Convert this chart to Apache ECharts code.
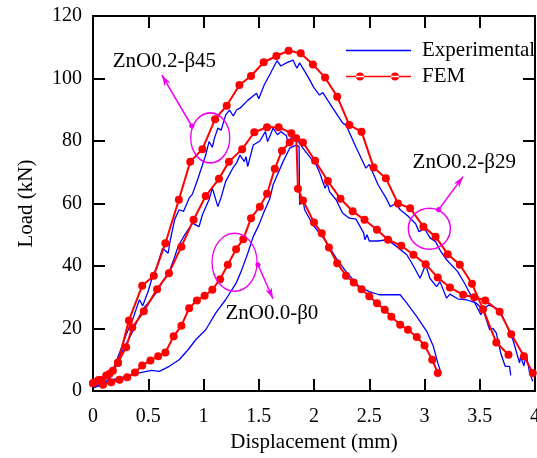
<!DOCTYPE html>
<html>
<head>
<meta charset="utf-8">
<script src="https://cdn.jsdelivr.net/npm/echarts@6/dist/echarts.min.js"></script>
<style>
html, body { margin: 0; padding: 0; background: #fff; }
#chart { width: 537px; height: 458px; font-family: 'Liberation Serif', serif; }
</style>
</head>
<body>
<div id="chart"></div>
<script>
// Load–displacement curves: [displacement (mm), load (kN)]

// ZnO0.2-β45
const expB45 = [[0,1],[0.08,2],[0.15,4],[0.2,7],[0.226,11],[0.26,14],[0.3,18],[0.36,23],[0.42,29.2],[0.45,27.3],[0.5,32],[0.53,35.6],[0.58,40],[0.63,45.7],[0.68,44.1],[0.7,48.4],[0.74,55],[0.78,58],[0.82,57.5],[0.87,61.7],[0.9,63],[0.95,68],[1.02,75.5],[1.05,79.8],[1.08,78],[1.1,81],[1.13,84.1],[1.16,83.5],[1.2,88.3],[1.235,89.9],[1.27,88],[1.3,90],[1.33,90.5],[1.4,93],[1.48,95.3],[1.5,93.5],[1.55,98],[1.6,101.3],[1.665,105.7],[1.7,104],[1.75,105],[1.81,105.9],[1.845,103.3],[1.87,105],[1.945,100.6],[2,97],[2.05,94.7],[2.08,95.5],[2.17,90.5],[2.26,85.7],[2.29,85.1],[2.38,78],[2.47,71.3],[2.5,72.5],[2.58,66],[2.65,61.9],[2.69,59],[2.74,60],[2.78,58],[2.85,56],[2.92,53.5],[2.95,51],[3,52],[3.05,49],[3.1,47.8],[3.15,44.5],[3.2,42],[3.3,38.2],[3.37,34],[3.44,29.2],[3.51,24.4],[3.53,26],[3.59,19.6],[3.62,20],[3.65,18.5],[3.69,12.1],[3.73,7.9],[3.77,7.9],[3.78,5]];
const femB45 = [[0,2.5],[0.05,3.5],[0.12,5],[0.18,6.5],[0.226,9.1],[0.325,22.6],[0.445,33.7],[0.55,36.9],[0.655,47.3],[0.777,61.2],[0.88,73.4],[0.99,77.4],[1.105,87],[1.21,91.3],[1.325,97.9],[1.43,100.8],[1.545,105.2],[1.66,107.2],[1.77,108.9],[1.88,108.1],[1.99,104.5],[2.1,100.3],[2.21,94.2],[2.32,85.1],[2.43,83],[2.54,71.5],[2.65,68.1],[2.76,60],[2.87,58.5],[2.99,52.6],[3.1,49.4],[3.21,43.8],[3.32,40.4],[3.43,34.3],[3.53,26.2],[3.65,15.5],[3.76,11.6]];

// ZnO0.2-β29
const expB29 = [[0,1.5],[0.06,2],[0.12,4],[0.18,7],[0.24,11.1],[0.3,15],[0.36,19.1],[0.42,24],[0.47,27],[0.52,29],[0.57,31.3],[0.63,35],[0.69,38.2],[0.73,42],[0.77,46.2],[0.83,50],[0.9,53.7],[0.96,52.6],[0.99,56.4],[1.05,61.2],[1.08,64.9],[1.13,59],[1.16,62],[1.2,67],[1.265,71.3],[1.3,73],[1.33,75.5],[1.37,73.4],[1.385,75],[1.4,71.8],[1.45,78.7],[1.51,80],[1.56,83],[1.58,79.8],[1.63,84.1],[1.67,82],[1.7,83],[1.75,81.7],[1.765,79.5],[1.795,81.1],[1.84,80.7],[1.9,77.7],[2.02,72.3],[2.05,70],[2.1,64.9],[2.12,66.5],[2.14,63.8],[2.2,61.2],[2.26,56.9],[2.32,55.3],[2.38,55],[2.45,50.5],[2.46,48.4],[2.48,50],[2.5,48],[2.58,48],[2.66,48.4],[2.72,47],[2.84,43.6],[2.9,40],[2.96,36.1],[3.01,40.4],[3.05,36],[3.11,33.4],[3.14,35],[3.2,29.7],[3.23,31],[3.3,29.5],[3.38,29.2],[3.47,28.1],[3.53,26],[3.58,27.5],[3.62,27],[3.68,26],[3.72,22.8],[3.8,16.4],[3.86,9],[3.87,11],[3.9,8],[3.92,12],[3.95,6],[3.98,3.1]];
const femB29 = [[0,2.5],[0.08,3.5],[0.15,5.5],[0.226,9],[0.3,14],[0.355,20.3],[0.46,25.5],[0.58,32.6],[0.687,37.7],[0.8,46.2],[0.91,54.8],[1.02,62.4],[1.14,67.9],[1.23,73.4],[1.35,77.4],[1.46,82.8],[1.575,84.4],[1.68,84.4],[1.795,82.5],[1.9,79.5],[2.01,73.7],[2.125,67.2],[2.24,61.5],[2.35,57.5],[2.457,54.8],[2.57,51.6],[2.67,48.4],[2.79,46.5],[2.9,43.6],[3.01,40.6],[3.12,36.3],[3.23,33.1],[3.35,30.8],[3.45,30],[3.55,29],[3.68,25.4],[3.785,18.2],[3.9,11.1],[3.98,5.8]];

// ZnO0.0-β0
const expB0 = [[0,1],[0.08,2],[0.18,3.6],[0.3,4.7],[0.42,5.8],[0.53,6.6],[0.6,6.3],[0.69,7.9],[0.78,10],[0.86,13.2],[0.93,16.4],[1.02,19.6],[1.11,24.9],[1.2,29.2],[1.295,34.5],[1.34,38.2],[1.4,44],[1.45,49.4],[1.5,53],[1.55,57.5],[1.6,61.5],[1.63,66],[1.72,73.4],[1.78,77.7],[1.84,78.7],[1.865,78.2],[1.87,59.6],[1.9,61.2],[1.915,58],[1.99,53.2],[2.11,47.8],[2.2,42.5],[2.29,38.2],[2.41,33.4],[2.5,31.8],[2.59,30.8],[2.68,30.8],[2.78,30.8],[2.84,28.1],[2.93,23.8],[3.02,19.1],[3.08,14.3],[3.12,9],[3.15,5.8]];
const femB0 = [[0.015,2.8],[0.09,2],[0.165,2.8],[0.24,3.6],[0.31,4.4],[0.38,5.9],[0.445,8.2],[0.52,9.8],[0.59,11.1],[0.655,12.3],[0.73,17.5],[0.8,20.9],[0.87,26.5],[0.94,29],[1.01,30.5],[1.08,32.4],[1.15,35.8],[1.22,40.4],[1.295,45.4],[1.36,48.6],[1.43,55.3],[1.51,59],[1.575,63.1],[1.645,71.1],[1.71,76.9],[1.78,79.5],[1.84,80.9],[1.855,64.7],[1.9,61],[2,53.9],[2.07,50.5],[2.135,45.9],[2.21,40.9],[2.29,36.9],[2.36,34.7],[2.43,32.6],[2.5,30.3],[2.57,28.1],[2.64,26],[2.7,23.8],[2.78,21.2],[2.85,19.6],[2.93,17.3],[3,14.6],[3.07,10],[3.12,5.8]];

// Specimen callouts (data coordinates): label, label anchor, arrow tail, arrow head, ring centre
const callouts = [
  { text: 'ZnO0.2-β45', label: [0.646, 105.3], from: [0.894, 84.8], to: [0.623, 101.1], ring: [1.061, 81.0] },
  { text: 'ZnO0.2-β29', label: [3.36, 73.0], from: [3.128, 58.0], to: [3.349, 68.6], ring: [3.044, 51.9] },
  { text: 'ZnO0.0-β0', label: [1.619, 24.9], from: [1.493, 40.4], to: [1.629, 29.5], ring: [1.281, 41.2] }
];
const ringSizes = [[39, 50], [42, 41], [45, 58]];

const SERIF = 'Liberation Serif';
const BLUE = '#0000ff';
const RED = '#ff0000';
const MAGENTA = '#ee00ee';

const expIcon = 'path://M0,0L0.01,0L0,0.01Z M0,3.3L65,3.3L65,4.7L0,4.7Z M0,8L0.01,8L0,7.99Z';
const femIcon = 'path://M0,3.2L65,3.2L65,4.8L0,4.8Z M10,4a4,4 0 1,0 8,0a4,4 0 1,0 -8,0Z M45,4a4,4 0 1,0 8,0a4,4 0 1,0 -8,0Z';

function expSeries(data) {
  return {
    name: 'Experimental', type: 'line', data: data,
    symbol: 'none', lineStyle: { color: BLUE, width: 1.3 }, itemStyle: { color: BLUE },
    z: 2
  };
}
function femSeries(data) {
  return {
    name: 'FEM', type: 'line', data: data,
    symbol: 'circle', symbolSize: 8, showAllSymbol: true,
    lineStyle: { color: RED, width: 2 }, itemStyle: { color: RED },
    z: 3
  };
}

const axisCommon = {
  type: 'value',
  axisLine: { show: true, onZero: false, lineStyle: { color: '#000', width: 2 } },
  axisTick: { show: true, inside: true, length: 12, lineStyle: { color: '#000', width: 2 } },
  splitLine: { show: false }
};

const chart = echarts.init(document.getElementById('chart'), null, { renderer: 'canvas' });

chart.setOption({
  animation: false,
  backgroundColor: '#fff',
  textStyle: { fontFamily: SERIF },
  grid: { left: 93, right: 2, top: 16, bottom: 67, containLabel: false, outerBoundsMode: 'none' },
  legend: {
    orient: 'vertical', left: 341, top: 35,
    itemWidth: 65, itemHeight: 8, itemGap: 5,
    selectedMode: false,
    textStyle: { fontFamily: SERIF, fontSize: 21, color: '#000', padding: [0, 0, 0, 6] },
    data: [
      { name: 'Experimental', icon: expIcon },
      { name: 'FEM', icon: femIcon }
    ]
  },
  xAxis: [
    Object.assign({}, axisCommon, {
      position: 'bottom', min: 0, max: 4, interval: 0.5,
      name: 'Displacement (mm)', nameLocation: 'middle', nameGap: 39,
      nameTextStyle: { fontFamily: SERIF, fontSize: 21, color: '#000' },
      axisLabel: { fontFamily: SERIF, fontSize: 20, color: '#000', margin: 16, hideOverlap: false }
    }),
    Object.assign({}, axisCommon, {
      position: 'top', min: 0, max: 4, interval: 0.5,
      axisLabel: { show: false }
    })
  ],
  yAxis: [
    Object.assign({}, axisCommon, {
      position: 'left', min: 0, max: 120, interval: 20,
      name: 'Load (kN)', nameLocation: 'middle', nameGap: 56, nameRotate: 90,
      nameTextStyle: { fontFamily: SERIF, fontSize: 21, color: '#000' },
      axisLabel: { fontFamily: SERIF, fontSize: 20, color: '#000', margin: 11 }
    }),
    Object.assign({}, axisCommon, {
      position: 'right', min: 0, max: 120, interval: 20,
      axisLabel: { show: false }
    })
  ],
  series: [
    expSeries(expB45), expSeries(expB29), expSeries(expB0),
    femSeries(femB45), femSeries(femB29), femSeries(femB0),
    {
      name: 'callouts', type: 'line', data: [], silent: true, z: 5,
      markLine: {
        silent: true, animation: false,
        symbol: ['circle', 'arrow'], symbolSize: [5, 11],
        lineStyle: { color: MAGENTA, width: 1.5, type: 'solid' },
        label: { show: false },
        data: callouts.map(c => [{ coord: c.from }, { coord: c.to }])
      },
      markPoint: {
        silent: true, animation: false,
        data: callouts.map((c, i) => ({
          coord: c.ring, symbol: 'circle', symbolSize: ringSizes[i],
          itemStyle: { color: 'rgba(0,0,0,0)', borderColor: MAGENTA, borderWidth: 1.5 },
          label: { show: false }
        })).concat(callouts.map(c => ({
          coord: c.label, symbol: 'rect', symbolSize: 1,
          itemStyle: { color: 'rgba(0,0,0,0)' },
          label: {
            show: true, position: 'inside', formatter: c.text,
            fontFamily: SERIF, fontSize: 21, color: '#000'
          }
        })))
      }
    }
  ]
});
</script>
</body>
</html>
